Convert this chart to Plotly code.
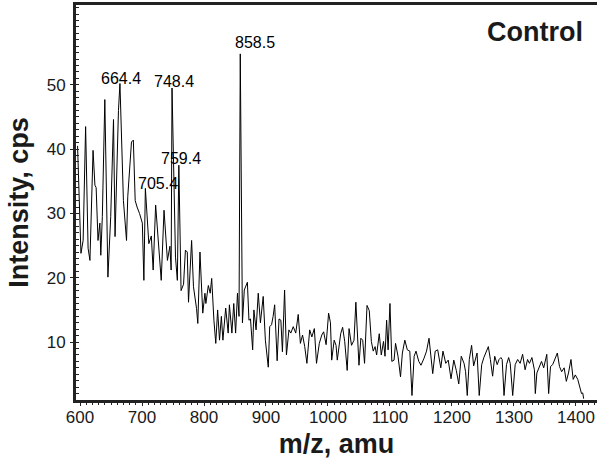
import plotly.graph_objects as go

# m/z values (amu) and intensities (cps)
mz = [596, 599, 601.5, 605, 609, 613, 616, 621, 624, 626, 629, 632, 633.5, 636, 640,
      645, 649.5, 654, 656.5, 662, 664.4, 670, 675, 677, 683, 686, 689, 692, 696, 700.5,
      703, 705.4, 711, 715, 718, 722, 727, 731, 735.5, 741, 745, 747, 748.4, 754, 757,
      759.4, 763, 767, 770, 773, 775, 780, 783, 788, 790, 793.5, 798, 801.5, 803, 807,
      810, 812.4, 816, 819, 822, 825, 828, 830.5, 835, 839, 841, 845, 848, 851, 854,
      856.5, 858.5, 862, 865, 870, 872.5, 875, 878.5, 880.5, 884, 887.5, 891, 895.5, 899,
      901, 903.7, 906, 909, 911.5, 914, 918, 921, 924, 926.5, 930, 933, 937, 940, 944,
      948, 952, 955.5, 959, 962.5, 966, 970.5, 974, 978, 981.5, 986, 990, 993, 997, 1001,
      1004, 1006, 1010, 1013, 1015, 1020.5, 1023.6, 1027, 1031, 1034, 1038, 1042, 1045,
      1050, 1053, 1056, 1059, 1063, 1066.6, 1070, 1073, 1076, 1078.5, 1082.7, 1086,
      1089.6, 1092, 1094.6, 1097, 1100, 1103, 1106.6, 1109, 1113, 1117, 1120, 1124, 1128,
      1132, 1135.5, 1139, 1142, 1146.5, 1150, 1155, 1159, 1163, 1166.7, 1169, 1173, 1177,
      1182, 1185.5, 1190, 1194, 1198.5, 1203, 1207, 1211, 1215, 1219.5, 1222, 1224.7,
      1228, 1231.7, 1235, 1238, 1240.5, 1244, 1248, 1251.5, 1255, 1258.7, 1262, 1265.6,
      1269, 1273, 1276, 1279, 1281, 1284, 1288, 1291.5, 1294, 1298, 1302, 1306, 1310,
      1314, 1318, 1322, 1325, 1329, 1333, 1334.5, 1337, 1340.7, 1344.5, 1348, 1353, 1356,
      1359, 1362.5, 1366, 1370, 1373.5, 1377, 1381, 1384.5, 1388, 1392, 1395.6, 1399,
      1403, 1407, 1409, 1411, 1412.5]

intensity = [40.5, 30, 23.8, 25.8, 43.5, 24.6, 22.7, 39.8, 34.4, 34, 25.8, 28.5, 23.5, 29.5, 47.7,
             20.1, 29.5, 44.6, 26.4, 46, 50.2, 32, 25.8, 32.6, 41.1, 41.4, 32, 31, 30, 28.5,
             19.6, 33.9, 25.3, 26.5, 21.2, 31.3, 25.3, 19.6, 30.5, 22.7, 24.9, 21.2, 49.5, 23.2, 19.6,
             37.5, 18, 19, 24.3, 24, 16.2, 25.8, 18.6, 15.2, 12.9, 24, 14.5, 17.6, 16, 18.8,
             17.6, 19.9, 13.4, 9.8, 15, 10.3, 14, 10.3, 15.3, 11.4, 15.8, 11.4, 16, 11.4, 17.6,
             14, 54.8, 13, 18.1, 19.3, 13.4, 13.6, 8.8, 15, 11.9, 17.6, 13, 17.1, 10.3,
             8.8, 6.1, 12.4, 12.7, 14, 15.8, 7.1, 13.6, 13.4, 8.5, 18.1, 8.0, 11.9, 11.4, 12.4,
             11.4, 14.3, 9.8, 11.1, 9.3, 6.7, 11.9, 10.8, 12.1, 6.7, 9.8, 11.1, 11.6, 9.6, 14.5,
             13, 7.2, 10.3, 9.5, 7.2, 11.3, 12.3, 10.1, 5.6, 12.1, 9.5, 10.3, 16.2,
             6.4, 10.6, 10.3, 6.7, 15.7, 14.9, 10.1, 8.6, 9.3, 8.0, 11.3, 8.0,
             10.1, 7.8, 13.4, 8.8, 16, 7, 7.2, 9.8, 7.8, 4.6, 8.3, 10.3, 8.8,
             8.6, 1.7, 7.8, 8.6, 7, 6.4, 7.5, 8.6, 10.6, 7.2, 5.1, 8.6, 8.8,
             6, 8.6, 6.7, 7.2, 4.3, 7.2, 5.6, 3.5, 7.8, 6.7, 5.4, 1.7,
             7.3, 9.5, 6.3, 7.3, 8.3, 1.7, 6.5, 7.6, 8.6, 9.3, 7.3, 4.7,
             7.8, 6.5, 7.3, 7.6, 7.3, 1.7, 6.5, 7.6, 6.7, 1.7, 6.5, 7.3, 6.7,
             8.1, 5.7, 7.3, 6.7, 7.6, 5.7, 2.0, 5.2, 6.2, 7.0, 6.0, 8.1, 2.0,
             6.2, 6.5, 7.3, 8.3, 6.2, 5.4, 6.0, 3.9, 5.2, 7.3, 4.2, 4.9,
             4.2, 2.6, 2, 2.1, 1.2]

peak_labels = ["664.4", "705.4", "748.4", "759.4", "858.5"]
peak_mz = [664.4, 705.4, 748.4, 759.4, 858.5]
peak_int = [50.2, 33.9, 49.5, 37.5, 54.8]

x_ticks = [600, 700, 800, 900, 1000, 1100, 1200, 1300, 1400]
y_ticks = [10, 20, 30, 40, 50]

FONT = "Liberation Sans, Arial, Helvetica, sans-serif"

fig = go.Figure()
fig.add_trace(go.Scatter(x=mz, y=intensity, mode="lines",
                         line=dict(color="black", width=1), hoverinfo="skip"))

# label offsets in pixels (x, y)
label_shift = {"664.4": (1, 5), "705.4": (13, 5), "748.4": (2, 6),
               "759.4": (2, 7), "858.5": (15, 11)}
for lab, xv, yv in zip(peak_labels, peak_mz, peak_int):
    dx, dy = label_shift[lab]
    fig.add_annotation(x=xv, y=yv, text=lab, showarrow=False,
                       xanchor="center", yanchor="middle", xshift=dx, yshift=dy,
                       font=dict(family=FONT, size=16, color="black"))

fig.add_annotation(xref="paper", yref="paper", x=0.977, y=0.932, text="<b>Control</b>",
                   showarrow=False, xanchor="right", yanchor="middle",
                   font=dict(family=FONT, size=27, color="#1a1a1a"))

fig.update_layout(
    width=597, height=459,
    margin=dict(l=76, r=0, t=5, b=59, autoexpand=False),
    paper_bgcolor="white", plot_bgcolor="white",
    showlegend=False,
    font=dict(family=FONT, color="black"),
)
fig.update_xaxes(
    range=[593.5, 1434], tickvals=x_ticks, ticktext=[str(v) for v in x_ticks],
    showgrid=False, zeroline=False,
    showline=True, linecolor="#222", linewidth=3, mirror=True,
    ticks="outside", ticklen=3, tickwidth=1, tickcolor="#222",
    minor=dict(dtick=10, tick0=600, ticks="outside", ticklen=2, tickcolor="#222"),
    tickfont=dict(family=FONT, size=17, color="#1a1a1a"),
    ticklabelstandoff=-3,
    title=dict(text="<b>m/z, amu</b>", font=dict(family=FONT, size=27, color="#1a1a1a"), standoff=10),
)
fig.update_yaxes(
    range=[1, 62.4], tickvals=y_ticks, ticktext=[str(v) for v in y_ticks],
    showgrid=False, zeroline=False,
    showline=True, linecolor="#222", linewidth=3, mirror=False,
    ticks="outside", ticklen=3, tickwidth=1, tickcolor="#222",
    minor=dict(dtick=1, tick0=0, ticks="inside", ticklen=3, tickcolor="#222"),
    tickfont=dict(family=FONT, size=17, color="#1a1a1a"),
    ticklabelstandoff=1,
    title=dict(text="<b>Intensity, cps</b>", font=dict(family=FONT, size=27, color="#1a1a1a"), standoff=11),
)

fig.write_html("out.html", config={"displayModeBar": False},
               post_script="document.body.style.margin='0';document.body.style.overflow='hidden';")
